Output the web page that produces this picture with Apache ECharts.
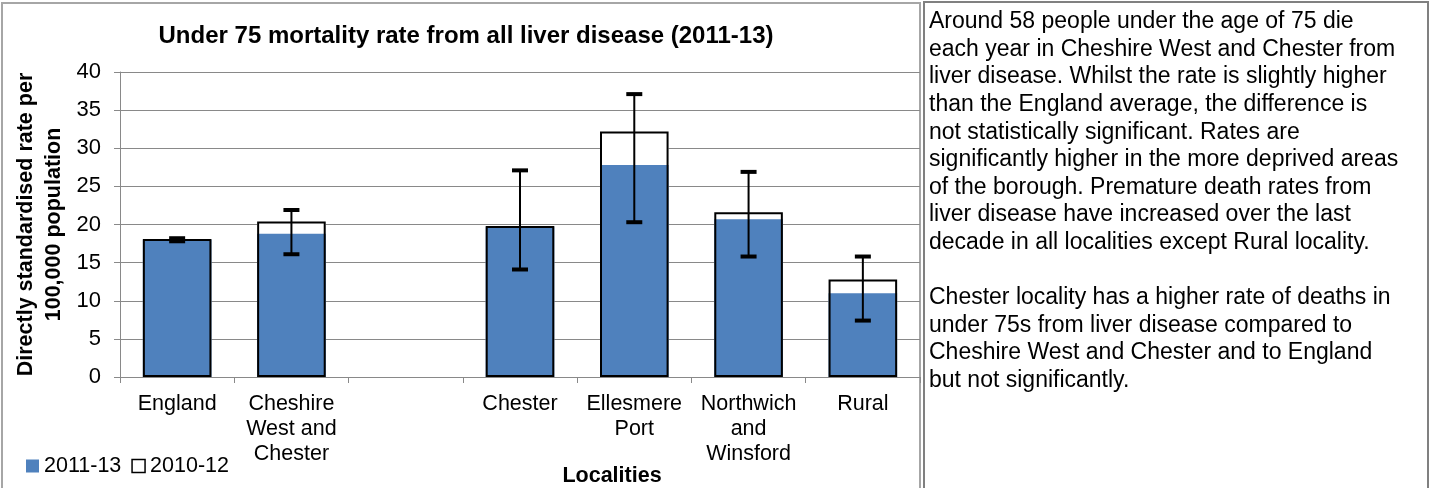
<!DOCTYPE html>
<html>
<head>
<meta charset="utf-8">
<script src="https://cdn.jsdelivr.net/npm/echarts@6/dist/echarts.min.js"></script>
<style>
  html, body { margin: 0; padding: 0; background: #fff; }
  #chart { width: 1431px; height: 488px; }
</style>
</head>
<body>
<div id="chart"></div>
<script>
// Under 75 mortality from liver disease, directly standardised rate per 100,000
const categories = ['England', 'Cheshire\nWest and\nChester', '', 'Chester', 'Ellesmere\nPort', 'Northwich\nand\nWinsford', 'Rural'];
const rate2011_13 = [18.0, 18.8, null, 19.7, 27.8, 20.7, 11.0];
const rate2010_12 = [18.1, 20.4, null, 19.8, 32.2, 21.6, 12.8];
// 95% confidence limits for 2011-13
const ciLower = [17.8, 16.1, null, 14.1, 20.3, 15.8, 7.4];
const ciUpper = [18.2, 21.9, null, 27.1, 37.1, 26.9, 15.8];
const yTicks = { min: 0, max: 40, interval: 5 };

const commentary = [
  'Around 58 people under the age of 75 die',
  'each year in Cheshire West and Chester from',
  'liver disease. Whilst the rate is slightly higher',
  'than the England average, the difference is',
  'not statistically significant. Rates are',
  'significantly higher in the more deprived areas',
  'of the borough. Premature death rates from',
  'liver disease have increased over the last',
  'decade in all localities except Rural locality.',
  '',
  'Chester locality has a higher rate of deaths in',
  'under 75s from liver disease compared to',
  'Cheshire West and Chester and to England',
  'but not significantly.'
];

const FONT = "'Liberation Sans', Arial, sans-serif";
const GRID_GRAY = '#898989';

const errorData = [];
categories.forEach((c, i) => {
  if (ciLower[i] != null && ciUpper[i] != null) errorData.push([i, ciLower[i], ciUpper[i]]);
});

const barCommon = { type: 'bar', barGap: '-100%', barCategoryGap: '40%' };

const chart = echarts.init(document.getElementById('chart'), null, { renderer: 'canvas' });

chart.setOption({
  animation: false,
  backgroundColor: '#fff',
  textStyle: { fontFamily: FONT },
  title: {
    text: 'Under 75 mortality rate from all liver disease (2011-13)',
    left: 461,
    top: 19,
    textAlign: 'center',
    textStyle: { fontFamily: FONT, fontSize: 24, fontWeight: 'bold', color: '#000' }
  },
  legend: {
    left: 26,
    top: 455,
    padding: 0,
    icon: 'rect',
    itemWidth: 13,
    itemHeight: 13,
    itemGap: 10,
    textStyle: { fontFamily: FONT, fontSize: 21.5, color: '#000' },
    data: [
      { name: '2011-13' },
      { name: '2010-12', itemStyle: { color: '#fff', borderColor: '#000', borderWidth: 1.5 } }
    ]
  },
  grid: { left: 120, right: 511, top: 72, bottom: 111 },
  xAxis: {
    type: 'category',
    data: categories,
    axisLine: { lineStyle: { color: GRID_GRAY, width: 1 } },
    axisTick: { show: true, length: 6, interval: 0, lineStyle: { color: GRID_GRAY } },
    axisLabel: {
      interval: 0, fontFamily: FONT, fontSize: 21.5, lineHeight: 25, color: '#000', margin: 15
    },
    splitLine: { show: false }
  },
  yAxis: {
    type: 'value',
    min: yTicks.min,
    max: yTicks.max,
    interval: yTicks.interval,
    axisLine: { show: true, lineStyle: { color: GRID_GRAY, width: 1 } },
    axisTick: { show: true, length: 6, lineStyle: { color: GRID_GRAY } },
    axisLabel: { fontFamily: FONT, fontSize: 22, color: '#000', margin: 19 },
    splitLine: { lineStyle: { color: GRID_GRAY, width: 1 } }
  },
  series: [
    // 2010-12 fill (behind)
    Object.assign({}, barCommon, {
      name: '2010-12',
      data: rate2010_12,
      itemStyle: { color: '#fff' },
      z: 2
    }),
    // 2011-13 fill (front)
    Object.assign({}, barCommon, {
      name: '2011-13',
      data: rate2011_13,
      itemStyle: { color: '#4F81BD' },
      z: 3
    }),
    // 2010-12 outline drawn over both fills
    Object.assign({}, barCommon, {
      name: '2010-12',
      data: rate2010_12,
      itemStyle: { color: 'rgba(0,0,0,0)', borderColor: '#000', borderWidth: 2 },
      z: 4
    }),
    {
      name: '95% CI',
      type: 'custom',
      data: errorData,
      encode: { x: 0, y: [1, 2] },
      z: 5,
      renderItem: function (params, api) {
        const lo = api.coord([api.value(0), api.value(1)]);
        const hi = api.coord([api.value(0), api.value(2)]);
        const x = lo[0];
        const half = 8;
        return {
          type: 'group',
          children: [
            { type: 'line', shape: { x1: x, y1: hi[1], x2: x, y2: lo[1] }, style: { stroke: '#000', lineWidth: 2 } },
            { type: 'line', shape: { x1: x - half, y1: hi[1], x2: x + half, y2: hi[1] }, style: { stroke: '#000', lineWidth: 4 } },
            { type: 'line', shape: { x1: x - half, y1: lo[1], x2: x + half, y2: lo[1] }, style: { stroke: '#000', lineWidth: 4 } }
          ]
        };
      }
    }
  ],
  graphic: [
    // chart frame
    { type: 'rect', z: 0, shape: { x: 2, y: 3, width: 918, height: 500 },
      style: { fill: 'none', stroke: '#a6a6a6', lineWidth: 2 } },
    // commentary frame
    { type: 'rect', z: 0, shape: { x: 924, y: 2, width: 504, height: 500 },
      style: { fill: 'none', stroke: '#808080', lineWidth: 2 } },
    // y-axis title
    { type: 'text', x: 40.5, y: 224.5, rotation: Math.PI / 2,
      style: { text: 'Directly standardised rate per\n100,000 population', fontFamily: FONT, fontSize: 21.5,
        fontWeight: 'bold', fill: '#000', align: 'center', verticalAlign: 'middle', lineHeight: 28 } },
    // x-axis title
    { type: 'text', x: 612, y: 476,
      style: { text: 'Localities', fontFamily: FONT, fontSize: 21.5, fontWeight: 'bold', fill: '#000',
        align: 'center', verticalAlign: 'middle' } },
    // commentary text
    { type: 'text', x: 929, y: 8,
      style: { text: commentary.join('\n'), fontFamily: FONT, fontSize: 23, fill: '#000',
        align: 'left', verticalAlign: 'top', lineHeight: 27.6 } }
  ]
});
</script>
</body>
</html>
